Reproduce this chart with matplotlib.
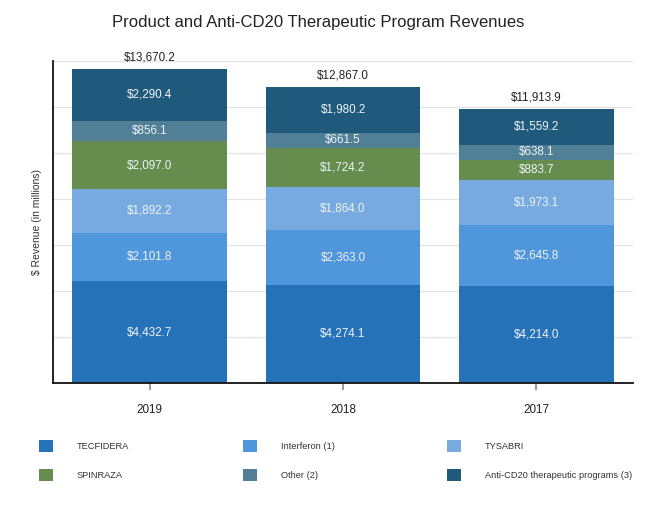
import matplotlib
matplotlib.use("Agg")
import matplotlib.pyplot as plt
from matplotlib.patches import Patch
import numpy as np

years = ["2019", "2018", "2017"]
series = ["TECFIDERA", "Interferon (1)", "TYSABRI", "SPINRAZA", "Other (2)",
          "Anti-CD20 therapeutic programs (3)"]
tecfidera = [4432.7, 4274.1, 4214.0]
interferon = [2101.8, 2363.0, 2645.8]
tysabri = [1892.2, 1864.0, 1973.1]
spinraza = [2097.0, 1724.2, 883.7]
other = [856.1, 661.5, 638.1]
anticd20 = [2290.4, 1980.2, 1559.2]
totals = [13670.2, 12867.0, 11913.9]
colors = ["#2672b8", "#5096db", "#77abe0", "#668d4e", "#517f95", "#1f5a7c"]

plt.rcParams['font.family'] = ['Liberation Sans', 'DejaVu Sans']

fig = plt.figure(figsize=(6.66, 5.08), dpi=100)
ax = fig.add_axes([53/666, 1-383/508, (633-53)/666, (383-61)/508])

data = [tecfidera, interferon, tysabri, spinraza, other, anticd20]
x = np.arange(len(years))
bottom = np.zeros(len(years))
for vals, col in zip(data, colors):
    vals = np.array(vals)
    ax.bar(x, vals, 0.8, bottom=bottom, color=col, zorder=2)
    for xi, b, v in zip(x, bottom, vals):
        ax.text(xi, b + v/2, f"${v:,.1f}", ha='center', va='center',
                color='#eef3f8', fontsize=8.4, zorder=3)
    bottom += vals

for xi, t in zip(x, totals):
    ax.annotate(f"${t:,.1f}", (xi, t), xytext=(0, 4), textcoords='offset points',
                ha='center', va='bottom', fontsize=8.4, color='#222222')

ax.set_xlim(-0.5, 2.5)
ax.set_ylim(0, 14000)
ax.set_yticks(np.arange(2000, 14001, 2000))
ax.tick_params(axis='y', length=0, labelleft=False)
ax.set_xticks(x)
ax.set_xticklabels(years, fontsize=8.4, color='#222222')
ax.tick_params(axis='x', length=5, width=1.2, color='#888888', pad=10)
ax.grid(axis='y', color='#e3e3e3', linewidth=0.9, zorder=0)
for s in ['top', 'right']:
    ax.spines[s].set_visible(False)
for s in ['left', 'bottom']:
    ax.spines[s].set_color('#111111')
    ax.spines[s].set_linewidth(1.3)
ax.set_ylabel("$ Revenue (in millions)", fontsize=7.5, color='#333333', labelpad=8)

fig.text(318/666, 1-22/508, "Product and Anti-CD20 Therapeutic Program Revenues",
         ha='center', va='center', fontsize=12, color='#222222')

# legend: three columns
cols = [(0, 3), (1, 4), (2, 5)]
xpos = [31/666, 235/666, 439/666]
for (i, j), xp in zip(cols, xpos):
    handles = [Patch(facecolor=colors[i], label=series[i]),
               Patch(facecolor=colors[j], label=series[j])]
    fig.legend(handles=handles, loc='upper left', bbox_to_anchor=(xp, 1-432/508),
               frameon=False, fontsize=6.7, handlelength=1.5, handleheight=1.5,
               handletextpad=2.5, labelspacing=1.9, labelcolor='#333333')

fig.savefig("out.png", dpi=100)
